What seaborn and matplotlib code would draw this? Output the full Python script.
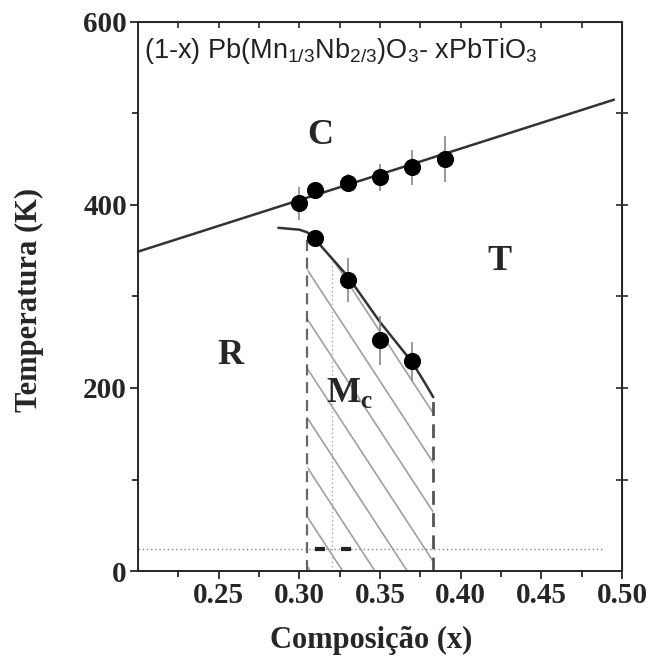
import numpy as np
import pandas as pd
import seaborn as sns
import matplotlib.pyplot as plt
from matplotlib.patches import Polygon

# upper transition (C -> T / C -> R)
x_ct = [0.30, 0.31, 0.33, 0.35, 0.37, 0.39]
t_ct = [402, 416, 424, 430, 441, 450]
err_ct = [18, 8, 10, 15, 19, 25]
line_ct_x = [0.20, 0.495]
line_ct_t = [349, 515]

# lower transition (R/Mc -> T)
x_mt = [0.31, 0.33, 0.35, 0.37]
t_mt = [364, 318, 252, 229]
err_mt = [5, 24, 27, 21]
line_mt_x = [0.287, 0.300, 0.305, 0.31, 0.33, 0.35, 0.37, 0.378, 0.383]
line_mt_t = [375, 373, 370, 362, 322, 272, 228, 205, 190]

# phase boundaries at low T
x_left, x_right, x_mid = 0.305, 0.383, 0.32
t_base = 24
x_marks = [0.313, 0.329]

title_txt = r'(1-x) Pb(Mn$_{1/3}$Nb$_{2/3}$)O$_3$- xPbTiO$_3$'
phase_labels = ['C', 'T', 'R', r'M$_\mathbf{c}$']
phase_x = [0.313, 0.424, 0.257, 0.331]
phase_t = [476, 338, 236, 194]

sns.set_style('ticks')
plt.rcParams['font.family'] = ['Liberation Serif', 'DejaVu Serif']
plt.rcParams['mathtext.fontset'] = 'custom'
plt.rcParams['mathtext.rm'] = 'Liberation Sans'
plt.rcParams['mathtext.bf'] = 'Liberation Serif:bold'

fig = plt.figure(figsize=(6.52, 6.60), dpi=100)
ax = fig.add_axes([0.2117, 0.1348, 0.7423, 0.832])

# hatched Mc region, drawn as clipped diagonal lines
reg_x = [x for x in line_mt_x if x >= x_left]
reg_t = [t for x, t in zip(line_mt_x, line_mt_t) if x >= x_left]
verts = [(x_left, 0)] + list(zip(reg_x, reg_t)) + [(x_right, 0)]
poly = Polygon(verts, closed=True, facecolor='none', edgecolor='none')
ax.add_patch(poly)
xs = np.array([0.30, 0.39])
for c in np.arange(-265, 500, 54):
    ln, = ax.plot(xs, c - 2700 * (xs - x_left), color='#a0a0a0', lw=1.2)
    ln.set_clip_path(poly)

# boundary lines
sns.lineplot(x=line_ct_x, y=line_ct_t, color='#333333', lw=1.8, ax=ax)
sns.lineplot(x=line_mt_x, y=line_mt_t, color='#333333', lw=1.8, ax=ax, sort=False)
ax.plot([x_left, x_left], [0, 368], color='#666666', lw=1.6, ls=(0, (5, 3)))
ax.plot([x_right, x_right], [0, 190], color='#555555', lw=2.0, ls=(0, (5, 3)))
ax.plot([x_mid, x_mid], [0, 340], color='#aaaaaa', lw=1.0, ls=(0, (1, 2)))
ax.plot([0.20, 0.488], [t_base, t_base], color='#888888', lw=1.0, ls=(0, (1, 2)))
ax.plot(x_marks, [t_base, t_base], ls='none', marker='_', ms=7, mew=3, color='#222222')

# data points with error bars
ax.errorbar(x_ct, t_ct, yerr=err_ct, fmt='none', ecolor='#888888', elinewidth=1.2)
ax.errorbar(x_mt, t_mt, yerr=err_mt, fmt='none', ecolor='#888888', elinewidth=1.2)
df = pd.DataFrame({'x': x_ct + x_mt, 't': t_ct + t_mt})
sns.scatterplot(data=df, x='x', y='t', s=130, color='black', edgecolor='black',
                ax=ax, zorder=5)

ax.text(0.204, 585, title_txt, fontsize=19.5, family=['Liberation Sans'],
        va='top', ha='left', color='#222222')
for lab, px, pt in zip(phase_labels, phase_x, phase_t):
    ax.text(px, pt, lab, fontsize=26, fontweight='bold', ha='center', va='center')

ax.set_xlim(0.20, 0.50)
ax.set_ylim(0, 600)
ax.set_xticks([0.25, 0.30, 0.35, 0.40, 0.45, 0.50])
ax.set_xticks(np.arange(0.225, 0.50, 0.05), minor=True)
ax.set_yticks([0, 200, 400, 600])
ax.set_yticks([100, 300, 500], minor=True)
ax.set_xticklabels(['0.25', '0.30', '0.35', '0.40', '0.45', '0.50'])
ax.tick_params(which='both', width=1.3, labelsize=21, pad=2)
ax.tick_params(which='major', length=6)
ax.tick_params(which='minor', length=4)
for lbl in ax.get_xticklabels() + ax.get_yticklabels():
    lbl.set_fontweight('bold')
for s in ax.spines.values():
    s.set_linewidth(1.4)

# inward ticks on top and right
top = ax.secondary_xaxis('top')
top.set_xticks(np.arange(0.225, 0.50, 0.025))
top.tick_params(direction='in', length=4, width=1.2, labelsize=0)
top.set_xticklabels([])
right = ax.secondary_yaxis('right')
right.set_yticks([100, 200, 300, 400, 500])
right.tick_params(direction='inout', length=8, width=1.2)
right.set_yticklabels([])

ax.set_xlabel('Composição (x)', fontsize=22, fontweight='bold')
ax.set_ylabel('Temperatura (K)', fontsize=22, fontweight='bold')
ax.xaxis.set_label_coords(0.481, -0.100)
ax.yaxis.set_label_coords(-0.195, 0.494)

fig.savefig('out.png', dpi=100)
